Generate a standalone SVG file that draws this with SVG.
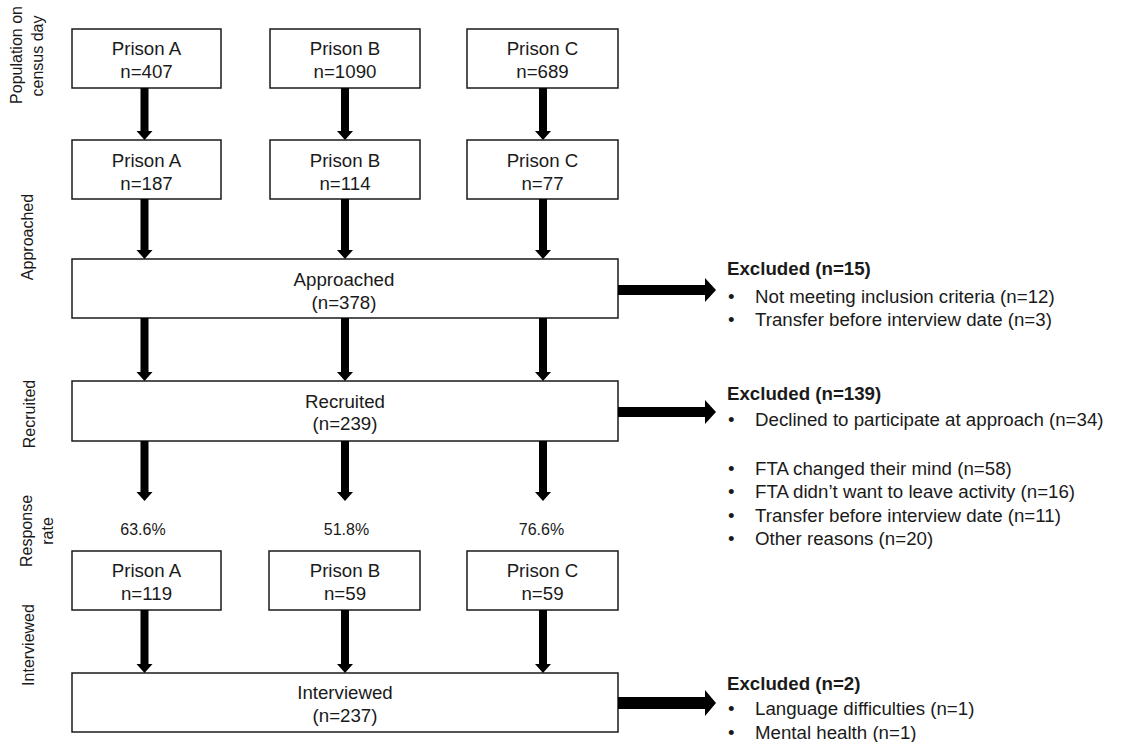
<svg xmlns="http://www.w3.org/2000/svg" width="1132" height="742" viewBox="0 0 1132 742">
<style>
.box{fill:#fff;stroke:#1a1a1a;stroke-width:1.5}
.t{font-family:"Liberation Sans",Arial,sans-serif;font-size:18.7px;fill:#1a1a1a;text-anchor:middle}
.lbl{font-family:"Liberation Sans",Arial,sans-serif;font-size:16px;fill:#1a1a1a;text-anchor:middle}
.pct{font-family:"Liberation Sans",Arial,sans-serif;font-size:16px;fill:#1a1a1a;text-anchor:middle}
.ex{font-family:"Liberation Sans",Arial,sans-serif;font-size:18.7px;fill:#1a1a1a}
.b{font-weight:bold}
.arr{fill:#000}
</style>
<rect width="1132" height="742" fill="#fff"/>
<g id="side-labels">
<text class="lbl" transform="translate(22,55) rotate(-90)">Population on</text>
<text class="lbl" transform="translate(43,56) rotate(-90)">census day</text>
<text class="lbl" transform="translate(33,237) rotate(-90)">Approached</text>
<text class="lbl" transform="translate(35,414) rotate(-90)">Recruited</text>
<text class="lbl" transform="translate(32,531) rotate(-90)">Response</text>
<text class="lbl" transform="translate(53,531) rotate(-90)">rate</text>
<text class="lbl" transform="translate(34,645) rotate(-90)">Interviewed</text>
</g>
<g id="pop-a"><rect class="box" x="72" y="29" width="149" height="59"/><text class="t" x="146.5" y="55">Prison A</text><text class="t" x="146.5" y="78">n=407</text></g>
<g id="pop-b"><rect class="box" x="270" y="29" width="150" height="59"/><text class="t" x="345" y="55">Prison B</text><text class="t" x="345" y="78">n=1090</text></g>
<g id="pop-c"><rect class="box" x="467" y="29" width="151" height="59"/><text class="t" x="542.5" y="55">Prison C</text><text class="t" x="542.5" y="78">n=689</text></g>
<g id="app-a"><rect class="box" x="72" y="140" width="149" height="59"/><text class="t" x="146.5" y="167">Prison A</text><text class="t" x="146.5" y="190">n=187</text></g>
<g id="app-b"><rect class="box" x="270" y="140" width="150" height="59"/><text class="t" x="345" y="167">Prison B</text><text class="t" x="345" y="190">n=114</text></g>
<g id="app-c"><rect class="box" x="467" y="140" width="151" height="59"/><text class="t" x="542.5" y="167">Prison C</text><text class="t" x="542.5" y="190">n=77</text></g>
<g id="approached"><rect class="box" x="72" y="259" width="546" height="59"/><text class="t" x="344" y="286">Approached</text><text class="t" x="344" y="309">(n=378)</text></g>
<g id="recruited"><rect class="box" x="72" y="381" width="546" height="60"/><text class="t" x="345" y="408">Recruited</text><text class="t" x="345" y="430">(n=239)</text></g>
<g id="rates">
<text class="pct" x="143" y="535">63.6%</text>
<text class="pct" x="346.5" y="535">51.8%</text>
<text class="pct" x="541.5" y="535">76.6%</text>
</g>
<g id="int-a"><rect class="box" x="72" y="551" width="149" height="59"/><text class="t" x="146.5" y="577">Prison A</text><text class="t" x="146.5" y="600">n=119</text></g>
<g id="int-b"><rect class="box" x="269" y="551" width="151" height="59"/><text class="t" x="345" y="577">Prison B</text><text class="t" x="345" y="600">n=59</text></g>
<g id="int-c"><rect class="box" x="467" y="551" width="151" height="59"/><text class="t" x="542.5" y="577">Prison C</text><text class="t" x="542.5" y="600">n=59</text></g>
<g id="interviewed"><rect class="box" x="72" y="673" width="546" height="59"/><text class="t" x="345" y="699">Interviewed</text><text class="t" x="345" y="722">(n=237)</text></g>
<g id="excl-1">
<text class="ex b" x="727" y="275">Excluded (n=15)</text>
<text class="ex" x="728" y="303">•</text><text class="ex" x="755" y="303">Not meeting inclusion criteria (n=12)</text>
<text class="ex" x="728" y="326">•</text><text class="ex" x="755" y="326">Transfer before interview date (n=3)</text>
</g>
<g id="excl-2">
<text class="ex b" x="727" y="400">Excluded (n=139)</text>
<text class="ex" x="728" y="426">•</text><text class="ex" x="755" y="426">Declined to participate at approach (n=34)</text>
<text class="ex" x="728" y="475">•</text><text class="ex" x="755" y="475">FTA changed their mind (n=58)</text>
<text class="ex" x="728" y="498">•</text><text class="ex" x="755" y="498">FTA didn’t want to leave activity (n=16)</text>
<text class="ex" x="728" y="522">•</text><text class="ex" x="755" y="522">Transfer before interview date (n=11)</text>
<text class="ex" x="728" y="545">•</text><text class="ex" x="755" y="545">Other reasons (n=20)</text>
</g>
<g id="excl-3">
<text class="ex b" x="727" y="690">Excluded (n=2)</text>
<text class="ex" x="728" y="715">•</text><text class="ex" x="755" y="715">Language difficulties (n=1)</text>
<text class="ex" x="728" y="739">•</text><text class="ex" x="755" y="739">Mental health (n=1)</text>
</g>
<g id="connectors" class="arr">
<polygon points="140.5,88 148.5,88 148.5,131 152.5,131 144.5,140 136.5,131 140.5,131"/>
<polygon points="341,88 349,88 349,131 353,131 345,140 337,131 341,131"/>
<polygon points="539,88 547,88 547,131 551,131 543,140 535,131 539,131"/>
<polygon points="140.5,199 148.5,199 148.5,250 152.5,250 144.5,259 136.5,250 140.5,250"/>
<polygon points="341,199 349,199 349,250 353,250 345,259 337,250 341,250"/>
<polygon points="539,199 547,199 547,250 551,250 543,259 535,250 539,250"/>
<polygon points="140.5,318 148.5,318 148.5,372 152.5,372 144.5,381 136.5,372 140.5,372"/>
<polygon points="341,318 349,318 349,372 353,372 345,381 337,372 341,372"/>
<polygon points="539,318 547,318 547,372 551,372 543,381 535,372 539,372"/>
<polygon points="140.5,441 148.5,441 148.5,492 152.5,492 144.5,501 136.5,492 140.5,492"/>
<polygon points="341,441 349,441 349,492 353,492 345,501 337,492 341,492"/>
<polygon points="539,441 547,441 547,492 551,492 543,501 535,492 539,492"/>
<polygon points="140.5,610 148.5,610 148.5,664 152.5,664 144.5,673 136.5,664 140.5,664"/>
<polygon points="341,610 349,610 349,664 353,664 345,673 337,664 341,664"/>
<polygon points="539,610 547,610 547,664 551,664 543,673 535,664 539,664"/>
<polygon points="618,285 705,285 705,278 716,290 705,302 705,295 618,295"/>
<polygon points="618,407 705,407 705,400 716,412 705,424 705,417 618,417"/>
<polygon points="618,697 705,697 705,690 716,703 705,716 705,709 618,709"/>
</g>
</svg>
